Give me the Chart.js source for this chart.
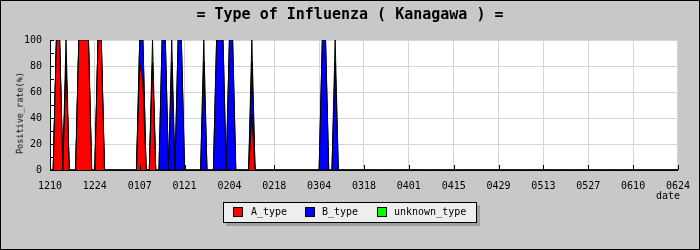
<!DOCTYPE html>
<html>
<head>
<meta charset="utf-8">
<script src="https://cdn.jsdelivr.net/npm/chart.js@4.4.0/dist/chart.umd.min.js"></script>
<style>
  html, body { margin: 0; padding: 0; background: #c8c8c8; }
  #wrap { position: relative; width: 700px; height: 250px; background: #c8c8c8; overflow: hidden;
          font-family: "DejaVu Sans Mono", monospace; color: #000; }
  #c { position: absolute; left: 0; top: 0; }
  .title { position: absolute; left: 0; top: 7px; width: 700px; text-align: center;
           font-size: 15px; line-height: 15px; font-weight: bold; white-space: pre; }
  .ytitle { position: absolute; left: 20px; top: 113px; font-size: 8.5px; line-height: 1;
            white-space: nowrap; transform: translate(-50%, -50%) rotate(-90deg); }
  .xtitle { position: absolute; left: 656px; top: 190px; font-size: 10px; line-height: 12px; }
  .legend { position: absolute; left: 223px; top: 202px; width: 254px; height: 21px; box-sizing: border-box;
            border: 1px solid #000; background: #eeeeee; box-shadow: 3px 3px 0 #a0a0a0; }
  .sw { position: absolute; top: 207px; width: 10px; height: 10px; box-sizing: border-box; border: 1px solid #000; }
  .lt { position: absolute; top: 206px; font-size: 10px; line-height: 12px; white-space: nowrap; }
  .frame { position: absolute; left: 0; top: 0; width: 700px; height: 250px; box-sizing: border-box;
           border: 1px solid #000; pointer-events: none; }
</style>
</head>
<body>
<div id="wrap">
  <canvas id="c" width="700" height="250"></canvas>
  <div class="title">= Type of Influenza ( Kanagawa ) =</div>
  <div class="ytitle">Positive_rate(%)</div>
  <div class="xtitle">date</div>
  <div class="legend"></div>
  <div class="sw" style="left:233px;background:#ff0000"></div>
  <div class="lt" style="left:251px">A_type</div>
  <div class="sw" style="left:305px;background:#0000ff"></div>
  <div class="lt" style="left:322px">B_type</div>
  <div class="sw" style="left:377px;background:#00ff00"></div>
  <div class="lt" style="left:394px">unknown_type</div>
  <div class="frame"></div>
</div>
<script>
// ---- data (day index 0 = 12/10, daily, 196 days to 06/24) ----
const dayCount = 197;
const tickLabels = ['1210','1224','0107','0121','0204','0218','0304','0318','0401','0415','0429','0513','0527','0610','0624'];
const seriesNames = ['A_type', 'B_type', 'unknown_type'];

const aDays   = [2, 3, 5, 9, 10, 11, 12, 15, 16, 28, 29, 32, 63];
const aValues = [100, 100, 83, 100, 100, 100, 100, 100, 100, 83, 67, 83, 42];

const bDays   = [28, 29, 35, 36, 38, 40, 41, 48, 52, 53, 54, 56, 57, 63, 85, 86, 89];
const bValues = [17, 33, 100, 100, 83, 100, 100, 83, 100, 100, 100, 100, 100, 41, 100, 100, 83];

const uDays   = [5, 32, 38, 48, 63, 89];
const uValues = [17, 17, 17, 17, 17, 17];

function daily(days, values) {
  const out = [];
  for (let d = 0; d < dayCount; d++) out.push({ x: d, y: 0 });
  days.forEach((d, i) => { out[d].y = values[i]; });
  return out;
}

const plotBg = {
  id: 'plotBg',
  beforeDraw(chart) {
    const { ctx, chartArea: a } = chart;
    ctx.save();
    ctx.fillStyle = '#ffffff';
    ctx.fillRect(a.left, a.top, a.right - a.left, a.bottom - a.top);
    ctx.restore();
  }
};

const innerTicks = {
  id: 'innerTicks',
  afterDatasetsDraw(chart) {
    const { ctx, chartArea: a, scales } = chart;
    ctx.save();
    ctx.strokeStyle = '#000';
    ctx.lineWidth = 1;
    ctx.beginPath();
    for (let v = 0; v <= 100; v += 10) {
      const y = Math.round(scales.y.getPixelForValue(v)) + 0.5;
      ctx.moveTo(a.left, y); ctx.lineTo(a.left + 4, y);
    }
    for (let d = 0; d < dayCount; d += 14) {
      const x = Math.round(scales.x.getPixelForValue(d)) + 0.5;
      ctx.moveTo(x, a.bottom); ctx.lineTo(x, a.bottom - 5);
    }
    ctx.stroke();
    ctx.restore();
  }
};

const common = { borderColor: '#000000', borderWidth: 1, pointRadius: 0, tension: 0 };

new Chart(document.getElementById('c'), {
  type: 'line',
  data: {
    datasets: [
      Object.assign({ label: seriesNames[0], data: daily(aDays, aValues), backgroundColor: '#ff0000', fill: 'origin' }, common),
      Object.assign({ label: seriesNames[1], data: daily(bDays, bValues), backgroundColor: '#0000ff', fill: '-1' }, common),
      Object.assign({ label: seriesNames[2], data: daily(uDays, uValues), backgroundColor: '#00ff00', fill: '-1' }, common)
    ]
  },
  options: {
    responsive: false,
    animation: false,
    devicePixelRatio: 1,
    layout: { padding: { top: 40, right: 19, left: 0, bottom: 0 } },
    plugins: { legend: { display: false }, tooltip: { enabled: false }, title: { display: false } },
    scales: {
      x: {
        type: 'linear', min: 0, max: dayCount - 1,
        afterFit(s) { s.height = 80; },
        grid: { color: '#d4d4d4', drawTicks: false },
        border: { display: true, color: '#000' },
        ticks: {
          stepSize: 14, autoSkip: false, maxRotation: 0, padding: 10, color: '#000',
          font: { family: 'DejaVu Sans Mono', size: 10 },
          callback: (v) => tickLabels[Math.round(v / 14)]
        }
      },
      y: {
        stacked: true, min: 0, max: 100,
        afterFit(s) { s.width = 50; },
        grid: { color: '#d4d4d4', drawTicks: false },
        border: { display: true, color: '#000' },
        ticks: { stepSize: 20, padding: 8, color: '#000', font: { family: 'DejaVu Sans Mono', size: 10 } }
      }
    }
  },
  plugins: [plotBg, innerTicks]
});
</script>
</body>
</html>
